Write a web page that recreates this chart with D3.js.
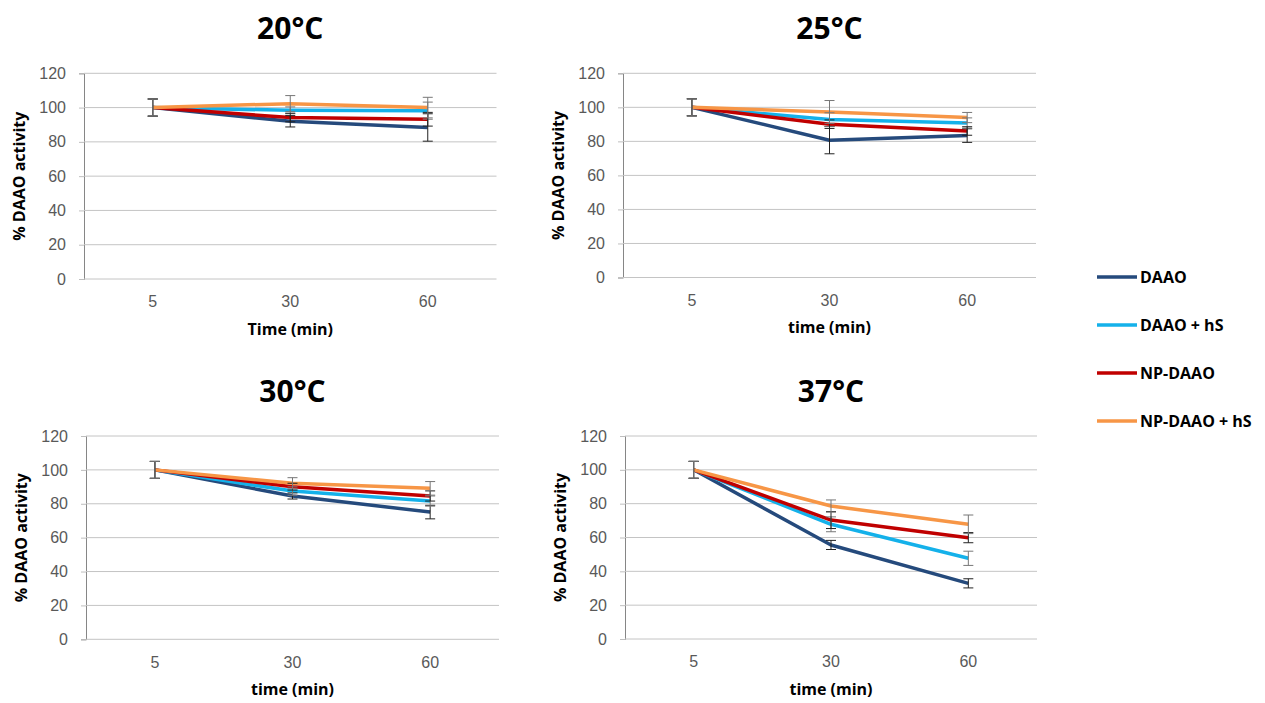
<!DOCTYPE html>
<html>
<head>
<meta charset="utf-8">
<script src="https://cdn.jsdelivr.net/npm/d3@7"></script>
<style>
  body { margin: 0; background: #fff; }
  svg { font-family: "Open Sans", sans-serif; }
</style>
</head>
<body>
<script>
// data (% DAAO activity, mean and error)
var times = ["5", "30", "60"];
var seriesNames = ["DAAO", "DAAO + hS", "NP-DAAO", "NP-DAAO + hS"];
var panelTitles = ["20°C", "25°C", "30°C", "37°C"];
var xTitles = ["Time (min)", "time (min)", "time (min)", "time (min)"];
var yTicks = [0, 20, 40, 60, 80, 100, 120];

var daao     = [[100, 92.0, 88.4], [100, 80.7, 83.4], [100, 84.6, 75.1], [100, 55.6, 32.9]];
var daaoHs   = [[100, 98.4, 98.2], [100, 92.8, 90.8], [100, 87.5, 81.6], [100, 67.8, 47.7]];
var npDaao   = [[100, 94.2, 93.2], [100, 90.1, 86.1], [100, 90.1, 84.6], [100, 70.3, 59.9]];
var npDaaoHs = [[100, 102.3, 100], [100, 97.3, 94.0], [100, 92.1, 89.1], [100, 78.6, 67.8]];

var daaoErr     = [[5, 3.3, 8], [5, 8, 4], [5, 1.8, 4], [5, 2.7, 2.7]];
var daaoHsErr   = [[5, 2, 5], [5, 4, 3], [5, 2.5, 3], [5, 4.4, 4.2]];
var npDaaoErr   = [[5, 2.5, 4], [5, 2.5, 2.5], [5, 2, 3], [5, 5, 3]];
var npDaaoHsErr = [[5, 4.7, 6], [5, 6.7, 3], [5, 3.3, 4], [5, 3.6, 5.5]];

var colors = ["#254A7C", "#14B1EA", "#C00000", "#F79646"];
var errColors = ["#222", "#777", "#222", "#777"];

// panel placement (left edge of plot, y of 120, y of 0, plot width)
var layout = [
    {x: 84,  top: 73.3, bottom: 279,   w: 412.5},
    {x: 623, top: 73.3, bottom: 277.5, w: 413},
    {x: 86,  top: 436,  bottom: 639.3, w: 413},
    {x: 625, top: 436,  bottom: 639,   w: 412}
];

var allVals = [daao, daaoHs, npDaao, npDaaoHs];
var allErrs = [daaoErr, daaoHsErr, npDaaoErr, npDaaoHsErr];

var svg = d3.select("body").append("svg").attr("width", 1265).attr("height", 703);

layout.forEach((L, p) => {
    var g = svg.append("g").attr("transform", "translate(" + L.x + "," + L.top + ")");
    var h = L.bottom - L.top;

    var x = d3.scaleBand().domain(times).range([0, L.w]).padding(0);
    var y = d3.scaleLinear().domain([0, 120]).range([h, 0]);

    // gridlines + y ticks
    var yAxis = g.append("g").call(d3.axisLeft(y).tickValues(yTicks).tickSize(5).tickPadding(13));
    yAxis.select(".domain").attr("stroke", "#868686");
    yAxis.selectAll(".tick line").attr("stroke", "#bfbfbf");
    yAxis.selectAll(".tick text").attr("fill", "#595959").style("font-size", "16px");

    g.append("g").selectAll("line").data(yTicks).enter().append("line")
        .attr("x1", 0).attr("x2", L.w)
        .attr("y1", d => y(d)).attr("y2", d => y(d))
        .attr("stroke", "#c4c4c4").attr("stroke-width", 1);

    // x labels
    var xAxis = g.append("g").attr("transform", "translate(0," + h + ")")
        .call(d3.axisBottom(x).tickSize(0).tickPadding(17));
    xAxis.select(".domain").remove();
    xAxis.selectAll(".tick text").attr("fill", "#595959").style("font-size", "16px");

    // series lines
    var line = d3.line().x((d, i) => x(times[i]) + x.bandwidth() / 2).y(d => y(d));
    allVals.forEach((s, k) => {
        g.append("path").datum(s[p])
            .attr("fill", "none").attr("stroke", colors[k])
            .attr("stroke-width", 3.5).attr("stroke-linejoin", "round")
            .attr("d", line);
    });

    // error bars
    allVals.forEach((s, k) => {
        s[p].forEach((v, i) => {
            var e = allErrs[k][p][i];
            var cx = x(times[i]) + x.bandwidth() / 2;
            var eb = g.append("g").attr("stroke", errColors[k]).attr("stroke-width", 1);
            eb.append("line").attr("x1", cx).attr("x2", cx).attr("y1", y(v + e)).attr("y2", y(v - e));
            eb.append("line").attr("x1", cx - 5).attr("x2", cx + 5).attr("y1", y(v + e)).attr("y2", y(v + e));
            eb.append("line").attr("x1", cx - 5).attr("x2", cx + 5).attr("y1", y(v - e)).attr("y2", y(v - e));
        });
    });

    // titles
    g.append("text").attr("x", L.w / 2).attr("y", -34).attr("text-anchor", "middle")
        .style("font-size", "30px").style("font-weight", "bold").text(panelTitles[p]);
    g.append("text").attr("x", L.w / 2).attr("y", h + 56).attr("text-anchor", "middle")
        .style("font-size", "16px").style("font-weight", "bold").text(xTitles[p]);
    g.append("text").attr("transform", "translate(-59," + (h / 2) + ") rotate(-90)")
        .attr("text-anchor", "middle")
        .style("font-size", "16px").style("font-weight", "bold").text("% DAAO activity");
});

// legend
var legend = svg.append("g").attr("transform", "translate(1097,277)");
seriesNames.forEach((name, k) => {
    var row = legend.append("g").attr("transform", "translate(0," + (k * 48) + ")");
    row.append("line").attr("x1", 0).attr("x2", 40).attr("y1", 0).attr("y2", 0)
        .attr("stroke", colors[k]).attr("stroke-width", 3.5);
    row.append("text").attr("x", 43).attr("y", 6)
        .style("font-size", "16px").style("font-weight", "bold").text(name);
});
</script>
</body>
</html>
